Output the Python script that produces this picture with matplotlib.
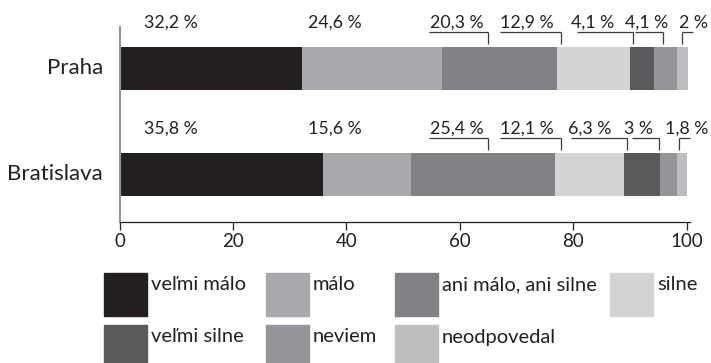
import numpy as np
import matplotlib
matplotlib.use("Agg")
import matplotlib.pyplot as plt
from matplotlib.patches import Rectangle

plt.rcParams["font.family"] = ["Lato", "DejaVu Sans"]

cities = ["Bratislava", "Praha"]
categories = ["veľmi málo", "málo", "ani málo, ani silne", "silne",
              "veľmi silne", "neviem", "neodpovedal"]
praha = [32.2, 24.6, 20.3, 12.9, 4.1, 4.1, 2.0]
bratislava = [35.8, 15.6, 25.4, 12.1, 6.3, 3.0, 1.8]
colors = ["#231f20", "#a7a9ac", "#808285", "#d1d3d4",
          "#58595b", "#939598", "#bcbec0"]

TXT = "#231f20"

# label layout per row: text centre, underline span; first two have no leader
praha_text_x = [9.0, 38.0, 59.4, 71.8, 83.3, 92.9, 101.1]
praha_lines = [None, None, (54.5, 64.9), (67.0, 77.8), (80.6, 90.5), (90.8, 95.8), (99.1, 101.0)]
brat_text_x = [9.0, 38.0, 59.4, 71.8, 82.9, 91.4, 99.9]
brat_lines = [None, None, (54.5, 64.9), (67.0, 77.8), (79.5, 89.4), (90.3, 95.1), (98.6, 100.5)]


def fmt(v):
    s = ("%.1f" % v).replace(".", ",")
    if s.endswith(",0"):
        s = s[:-2]
    return s + " %"


fig = plt.figure(figsize=(7.11, 3.63), dpi=100)
ax = fig.add_axes([119.5 / 711, 141 / 363, 570.5 / 711, 195 / 363])

rows = [bratislava, praha]
ypos = [0, 1]
left = np.zeros(2)
for i, cat in enumerate(categories):
    vals = np.array([r[i] for r in rows])
    ax.barh(ypos, vals, left=left, height=0.40, color=colors[i], label=cat)
    left += vals

# value labels above the bars, with leader lines for the narrow segments
for y, vals, tx, lines in [(1, praha, praha_text_x, praha_lines),
                           (0, bratislava, brat_text_x, brat_lines)]:
    for v, x, ln in zip(vals, tx, lines):
        ax.text(x, y + 0.43, fmt(v), ha="center", va="center", fontsize=12.8,
                color=TXT, clip_on=False)
        if ln is None:
            continue
        x0, x1 = ln
        ax.plot([x0, x1], [y + 0.345, y + 0.345], color="#3a3a3a", lw=0.9,
                clip_on=False, solid_capstyle="butt")
        xv = x1 if ln is not lines[-1] else x0
        ax.plot([xv, xv], [y + 0.345, y + 0.23], color="#3a3a3a", lw=0.9,
                clip_on=False, solid_capstyle="butt")

ax.set_xlim(0, 100.53)
ax.set_ylim(-0.45, 1.39)
ax.set_xticks([0, 20, 40, 60, 80, 100])
ax.set_yticks(ypos)
ax.set_yticklabels(cities, fontsize=16, color=TXT, va="center")
ax.tick_params(axis="y", length=0, pad=12)
ax.tick_params(axis="x", length=6, width=0.9, color=TXT, labelsize=13.5,
               labelcolor=TXT, pad=2)
for side in ["top", "right"]:
    ax.spines[side].set_visible(False)
ax.spines["left"].set_color("#939598")
ax.spines["left"].set_linewidth(1.5)
ax.spines["bottom"].set_color(TXT)
ax.spines["bottom"].set_linewidth(0.9)

# legend drawn by hand in pixel positions
leg_cols = [104, 266, 395, 610, 104, 266, 395]
leg_top = [273, 273, 273, 273, 325, 325, 325]
leg_h = [43, 43, 43, 43, 38, 38, 38]
for cat, c, x, t, h in zip(categories, colors, leg_cols, leg_top, leg_h):
    fig.patches.append(Rectangle((x / 711, (363 - t - h) / 363), 43 / 711, h / 363,
                                 transform=fig.transFigure, color=c))
    fig.text((x + 47) / 711, (363 - t - 12) / 363, cat, ha="left", va="center",
             fontsize=14.5, color=TXT)

fig.savefig("out.png", dpi=100)
